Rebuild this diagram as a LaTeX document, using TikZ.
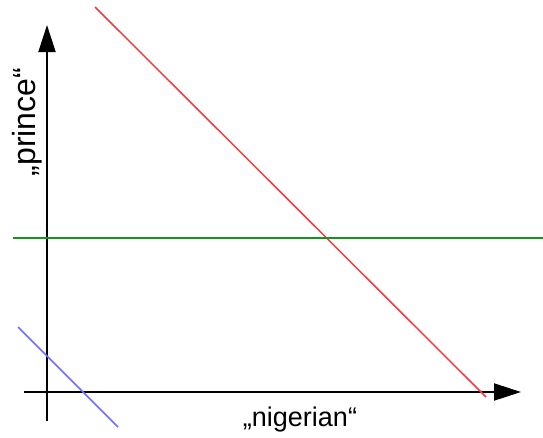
\documentclass[tikz,border=0pt]{standalone}
\usepackage{fontspec}
\setmainfont{Liberation Sans}
\usetikzlibrary{arrows.meta}
\begin{document}
\begin{tikzpicture}[x=1pt,y=-1pt,
  axis/.style={line width=2pt,-{Triangle[length=27pt,width=17pt]}},
  redline/.style={draw={rgb,255:red,240;green,60;blue,60},line width=1.5pt},
  greenline/.style={draw={rgb,255:red,20;green,150;blue,30},line width=1.5pt},
  blueline/.style={draw={rgb,255:red,110;green,110;blue,255},line width=1.5pt},
  lbl/.style={inner sep=0pt}]
\useasboundingbox (0,0) rectangle (543,437);
\coordinate (ybot) at (47,421);
\coordinate (ytop) at (47,25);
\coordinate (xleft) at (24,392);
\coordinate (xright) at (521,392);
\coordinate (r1) at (95,7);
\coordinate (r2) at (486,397);
\coordinate (g1) at (13,238);
\coordinate (g2) at (543,238);
\coordinate (b1) at (18,327);
\coordinate (b2) at (118,427);
\draw[axis] (ybot) -- (ytop);
\draw[axis] (xleft) -- (xright);
\draw[redline] (r1) -- (r2);
\draw[greenline] (g1) -- (g2);
\draw[blueline] (b1) -- (b2);
\node[lbl,anchor=base,rotate=90,font=\fontsize{32}{36}\selectfont] (prince) at (35,122) {„prince“};
\node[lbl,anchor=base,font=\fontsize{27}{31}\selectfont] (nigerian) at (300,426) {„nigerian“};
\end{tikzpicture}
\end{document}
